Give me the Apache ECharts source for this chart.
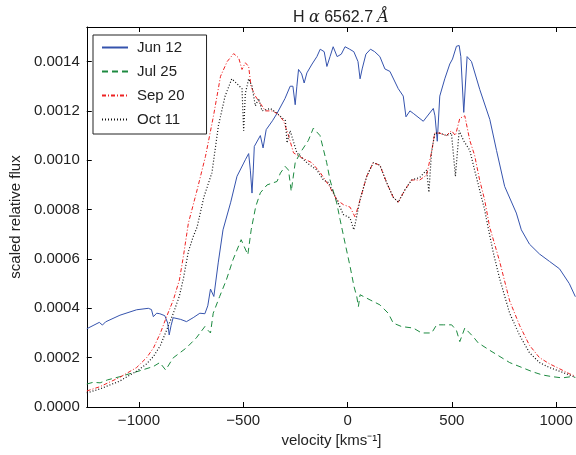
<!DOCTYPE html>
<html>
<head>
<meta charset="utf-8">
<script src="https://cdn.jsdelivr.net/npm/echarts@6/dist/echarts.min.js"></script>
<style>
  html, body { margin: 0; padding: 0; background: #fff; }
  #chart { width: 576px; height: 455px; }
</style>
</head>
<body>
<div id="chart"></div>
<script>
// tick positions
const xTicks = [-1000, -500, 0, 500, 1000]
const yTicks = [0, 0.0002, 0.0004, 0.0006, 0.0008, 0.0010, 0.0012, 0.0014]

// Jun 12 (velocity km/s, scaled relative flux)
const jun12V = [-1250, -1220, -1190, -1175, -1160, -1091, -1011, -955, -940, -931, -915, -900, -876, -862, -855, -846, -836, -800, -772, -740, -708, -684, -670, -657, -648, -641, -620, -597, -560, -530, -500, -490, -474, -466, -458, -452, -447, -418, -405, -390, -360, -338, -300, -275, -262, -251, -243, -235, -220, -208, -195, -170, -147, -131, -112, -99, -84, -69, -50, -30, -12, 10, 30, 50, 60, 70, 88, 110, 130, 155, 179, 203, 243, 267, 280, 299, 315, 363, 411, 419, 430, 442, 466, 490, 503, 522, 535, 543, 557, 573, 594, 634, 682, 714, 753, 809, 833, 872, 920, 968, 1016, 1063, 1092]
const jun12F = [0.000317, 0.000330, 0.000343, 0.000332, 0.000345, 0.000372, 0.000394, 0.000400, 0.000395, 0.000366, 0.000380, 0.000378, 0.000370, 0.000340, 0.000292, 0.000330, 0.000362, 0.000355, 0.000346, 0.000362, 0.000380, 0.000378, 0.000410, 0.000478, 0.000470, 0.000448, 0.000584, 0.000718, 0.000830, 0.000935, 0.000985, 0.001002, 0.001027, 0.000960, 0.000867, 0.000960, 0.001056, 0.001100, 0.001050, 0.001124, 0.001160, 0.001190, 0.001250, 0.001300, 0.001300, 0.001225, 0.001300, 0.001368, 0.001350, 0.001313, 0.001354, 0.001390, 0.001420, 0.001450, 0.001440, 0.001380, 0.001420, 0.001460, 0.001420, 0.001430, 0.001460, 0.001450, 0.001440, 0.001400, 0.001330, 0.001370, 0.001430, 0.001450, 0.001440, 0.001420, 0.001370, 0.001360, 0.001290, 0.001260, 0.001176, 0.001200, 0.001190, 0.001158, 0.001210, 0.001180, 0.001077, 0.001260, 0.001330, 0.001390, 0.001410, 0.001462, 0.001465, 0.001420, 0.001194, 0.001420, 0.001400, 0.001286, 0.001165, 0.001040, 0.000894, 0.000786, 0.000718, 0.000660, 0.000620, 0.000590, 0.000560, 0.000500, 0.000447]

// Jul 25
const jul25V = [-1250, -1220, -1186, -1150, -1091, -1011, -931, -900, -872, -836, -772, -725, -684, -668, -657, -644, -613, -581, -549, -510, -478, -462, -440, -418, -386, -338, -322, -299, -283, -270, -251, -227, -188, -164, -132, -100, -84, -52, -36, -12, 12, 31, 44, 52, 60, 108, 155, 195, 219, 259, 315, 355, 403, 427, 459, 499, 522, 538, 562, 602, 626, 681, 777, 886, 933, 981, 1029, 1072, 1092]
const jul25F = [0.000093, 0.000100, 0.000098, 0.000110, 0.000123, 0.000143, 0.000164, 0.000180, 0.000150, 0.000199, 0.000240, 0.000280, 0.000326, 0.000310, 0.000300, 0.000380, 0.000448, 0.000515, 0.000597, 0.000678, 0.000617, 0.000718, 0.000813, 0.000868, 0.000900, 0.000914, 0.000948, 0.000975, 0.000960, 0.000874, 0.000990, 0.001030, 0.001080, 0.001130, 0.001100, 0.000990, 0.000920, 0.000827, 0.000760, 0.000664, 0.000570, 0.000488, 0.000448, 0.000407, 0.000455, 0.000434, 0.000414, 0.000380, 0.000340, 0.000326, 0.000320, 0.000300, 0.000300, 0.000333, 0.000333, 0.000333, 0.000310, 0.000265, 0.000320, 0.000285, 0.000260, 0.000230, 0.000180, 0.000143, 0.000130, 0.000123, 0.000118, 0.000123, 0.000120]

// Sep 20
const sep20V = [-1250, -1188, -1092, -1011, -963, -930, -897, -868, -835, -806, -787, -763, -721, -681, -643, -609, -577, -546, -522, -506, -490, -474, -463, -442, -426, -394, -362, -338, -307, -283, -259, -219, -171, -131, -84, -52, -20, 12, 36, 60, 92, 123, 155, 187, 219, 243, 275, 307, 346, 379, 402, 418, 442, 474, 498, 517, 538, 562, 586, 609, 633, 657, 681, 729, 777, 825, 872, 920, 968, 1016, 1063, 1092]
const sep20F = [0.000065, 0.000082, 0.000120, 0.000160, 0.000200, 0.000240, 0.000300, 0.000365, 0.000434, 0.000515, 0.000610, 0.000745, 0.000880, 0.001016, 0.001178, 0.001340, 0.001400, 0.001432, 0.001415, 0.001368, 0.001395, 0.001380, 0.001300, 0.001260, 0.001240, 0.001200, 0.001200, 0.001190, 0.001160, 0.001100, 0.001030, 0.001010, 0.000990, 0.000950, 0.000890, 0.000840, 0.000820, 0.000810, 0.000770, 0.000840, 0.000935, 0.000990, 0.000980, 0.000910, 0.000850, 0.000830, 0.000880, 0.000920, 0.000920, 0.000940, 0.001030, 0.001110, 0.001110, 0.001100, 0.001120, 0.001100, 0.001170, 0.001180, 0.001080, 0.001020, 0.000920, 0.000840, 0.000730, 0.000590, 0.000430, 0.000330, 0.000250, 0.000200, 0.000175, 0.000155, 0.000135, 0.000125]

// Oct 11
const oct11V = [-1250, -1188, -1092, -1011, -963, -930, -897, -868, -835, -806, -787, -763, -740, -721, -689, -650, -619, -587, -555, -530, -506, -498, -490, -474, -458, -442, -426, -410, -370, -338, -298, -290, -275, -243, -195, -147, -116, -92, -52, -20, 12, 30, 36, 60, 92, 123, 155, 187, 219, 243, 275, 307, 346, 379, 390, 402, 418, 442, 474, 498, 517, 535, 556, 586, 609, 633, 657, 673, 700, 729, 777, 825, 872, 920, 968, 1016, 1063, 1092]
const oct11F = [0.000057, 0.000073, 0.000105, 0.000145, 0.000175, 0.000205, 0.000250, 0.000310, 0.000380, 0.000450, 0.000520, 0.000630, 0.000690, 0.000730, 0.000850, 0.000950, 0.001140, 0.001260, 0.001330, 0.001310, 0.001290, 0.001120, 0.001270, 0.001330, 0.001300, 0.001220, 0.001250, 0.001200, 0.001210, 0.001190, 0.001160, 0.001070, 0.001120, 0.001030, 0.000990, 0.000960, 0.000920, 0.000910, 0.000840, 0.000780, 0.000766, 0.000718, 0.000740, 0.000840, 0.000935, 0.000990, 0.000980, 0.000910, 0.000850, 0.000830, 0.000880, 0.000920, 0.000930, 0.000960, 0.000870, 0.001030, 0.001110, 0.001110, 0.001100, 0.001110, 0.000935, 0.001120, 0.001080, 0.001040, 0.000960, 0.000880, 0.000800, 0.000730, 0.000620, 0.000520, 0.000380, 0.000290, 0.000220, 0.000180, 0.000160, 0.000145, 0.000130, 0.000120]

const pair = (vs, fs) => vs.map((v, i) => [v, fs[i]])

const font = 'Liberation Sans, Arial, Helvetica, sans-serif'
const chart = echarts.init(document.getElementById('chart'))

function makeSeries(name, vs, fs, color, dash, width) {
  return {
    name: name,
    type: 'line',
    showSymbol: false,
    symbol: 'none',
    animation: false,
    lineStyle: { color: color, width: width, type: dash },
    itemStyle: { color: color },
    data: pair(vs, fs)
  }
}

const xAxisBase = {
  type: 'value',
  min: -1250,
  max: 1095,
  axisLine: { show: true, onZero: false, lineStyle: { color: '#000', width: 1 } },
  axisTick: { show: true, inside: true, length: 5, customValues: xTicks, lineStyle: { color: '#000' } },
  splitLine: { show: false }
}

const option = {
  backgroundColor: '#fff',
  animation: false,
  title: {
    text: 'H {i|α} 6562.7 {i|Å}',
    left: 336,
    textAlign: 'center',
    top: 5,
    textStyle: {
      fontFamily: font,
      fontSize: 16,
      fontWeight: 'normal',
      color: '#222',
      rich: { i: { fontStyle: 'italic', fontFamily: 'DejaVu Serif, serif', fontSize: 16, color: '#222' } }
    }
  },
  // 图例，带边框，只画线段
  legend: {
    orient: 'vertical',
    left: 93,
    top: 35,
    padding: [5, 22, 7, 8],
    itemWidth: 26,
    itemHeight: 14,
    itemGap: 9,
    borderColor: '#222',
    borderWidth: 1,
    borderRadius: 0,
    backgroundColor: '#fff',
    itemStyle: { opacity: 0 },
    textStyle: { fontFamily: font, fontSize: 15, color: '#222', padding: [0, 0, 0, 4] },
    data: ['Jun 12', 'Jul 25', 'Sep 20', 'Oct 11']
  },
  grid: { left: 86, right: 0, top: 27, bottom: 48, containLabel: false },
  xAxis: [
    Object.assign({}, xAxisBase, {
      position: 'bottom',
      name: 'velocity [kms⁻¹]',
      nameLocation: 'middle',
      nameGap: 26,
      nameTextStyle: { fontFamily: font, fontSize: 15, color: '#222' },
      axisLabel: {
        show: true,
        customValues: xTicks,
        margin: 6,
        fontFamily: font,
        fontSize: 15,
        color: '#222',
        formatter: v => String(v).replace('-', '\u2212')
      }
    }),
    Object.assign({}, xAxisBase, {
      position: 'top',
      axisLabel: { show: false }
    })
  ],
  yAxis: {
    type: 'value',
    min: 0,
    max: 0.00154,
    name: 'scaled relative flux',
    nameLocation: 'middle',
    nameRotate: 90,
    nameGap: 60,
    nameTextStyle: { fontFamily: font, fontSize: 15, color: '#222' },
    axisLine: { show: true, onZero: false, lineStyle: { color: '#000', width: 1 } },
    axisTick: { show: true, inside: true, length: 5, customValues: yTicks, lineStyle: { color: '#000' } },
    axisLabel: {
      customValues: yTicks,
      margin: 7,
      fontFamily: font,
      fontSize: 15,
      color: '#222',
      formatter: v => v.toFixed(4)
    },
    splitLine: { show: false }
  },
  series: [
    makeSeries('Jun 12', jun12V, jun12F, '#3553ad', 'solid', 1),
    makeSeries('Jul 25', jul25V, jul25F, '#1d8a40', [6, 4], 1),
    makeSeries('Sep 20', sep20V, sep20F, '#ee2222', [4, 2, 1, 2], 1),
    makeSeries('Oct 11', oct11V, oct11F, '#111111', [1, 2], 1.2)
  ]
}

chart.setOption(option)
</script>
</body>
</html>
